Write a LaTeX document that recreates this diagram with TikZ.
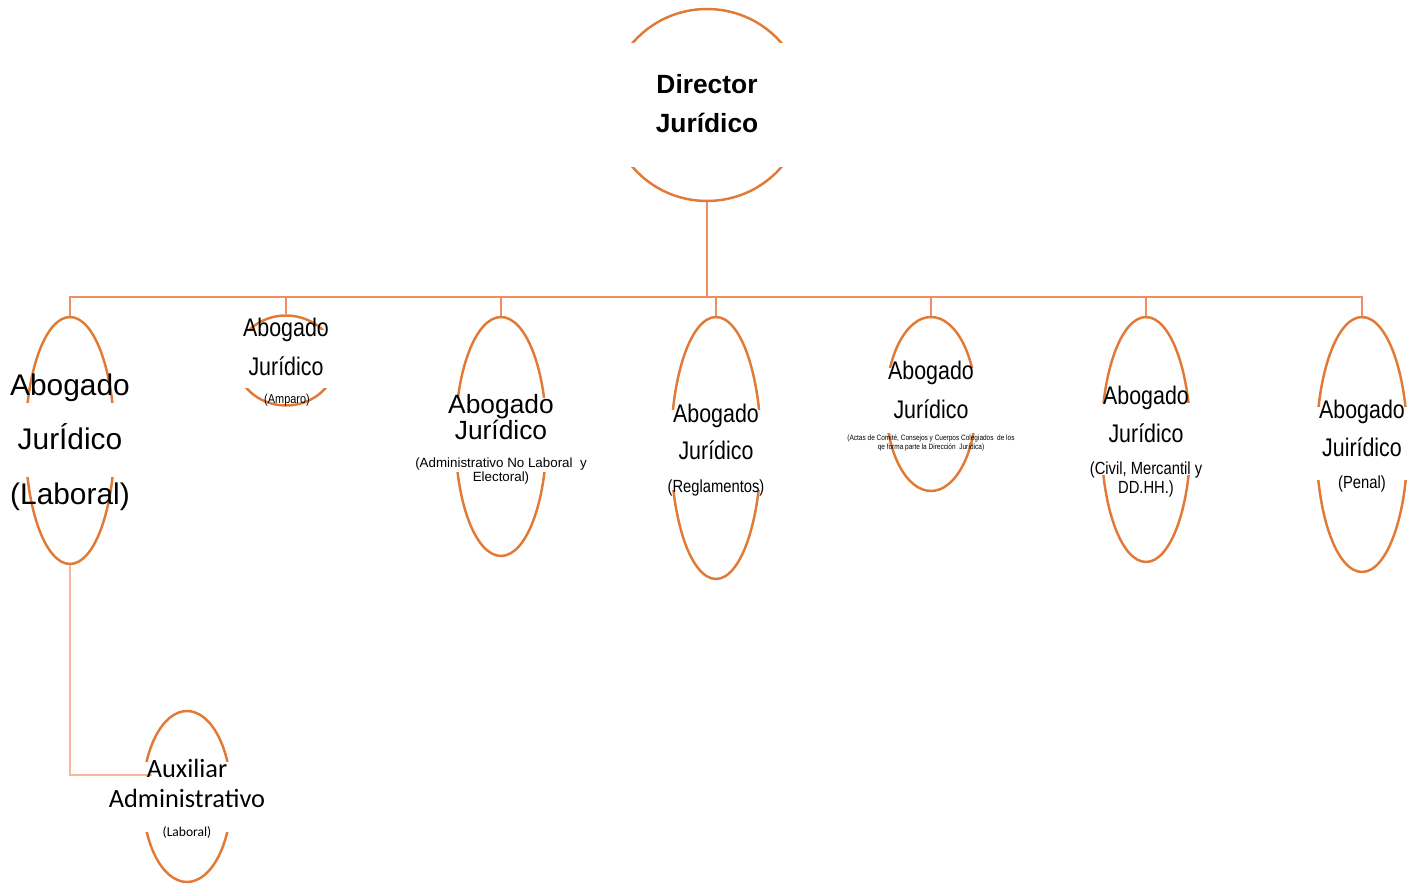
\documentclass[tikz,border=0pt]{standalone}
\usepackage{fontspec}
\setmainfont{Liberation Sans}
\newfontfamily\narrowsf{Liberation Sans}[FakeStretch=0.84]
\newfontfamily\calibrisf{Carlito}
\usetikzlibrary{shapes}
\definecolor{ring}{HTML}{E07A35}
\definecolor{link}{HTML}{F08D5E}
\definecolor{linklight}{HTML}{F6B7A0}
\tikzset{%
	puesto/.style = {draw=ring, line width=1.4pt, ellipse, inner sep=0pt},
	tapa/.style   = {fill=white, inner sep=0pt}, % hides the sides of a ring
	linea/.style  = {draw=link, line width=1.5pt},
	txt/.style    = {anchor=base, inner sep=0pt, align=center},
	dirf/.style   = {font=\bfseries\fontsize{15}{18}\selectfont},
	bigf/.style   = {font=\fontsize{17}{20}\selectfont},
	midf/.style   = {font=\fontsize{15}{18}\selectfont},
	narf/.style   = {font=\narrowsf\fontsize{14.5}{17}\selectfont},
	subf/.style   = {font=\narrowsf\fontsize{10}{12}\selectfont},
	calf/.style   = {font=\calibrisf\fontsize{15}{18}\selectfont}
}

\begin{document}
\begin{tikzpicture}[x=0.02cm,y=-0.02cm]
	\useasboundingbox (0,0) rectangle (1417,884);

	% rings
	\node[puesto, minimum width=3.9cm, minimum height=3.84cm] (dir) at (707,105) {};
	\node[puesto, minimum width=1.78cm, minimum height=4.94cm] (lab) at (70,440.5) {};
	\node[puesto, minimum width=2cm, minimum height=1.8cm] (amp) at (286,360.5) {};
	\node[puesto, minimum width=1.82cm, minimum height=4.78cm] (adm) at (501,436.5) {};
	\node[puesto, minimum width=1.8cm, minimum height=5.24cm] (reg) at (716,448) {};
	\node[puesto, minimum width=1.8cm, minimum height=3.48cm] (act) at (931,404) {};
	\node[puesto, minimum width=1.78cm, minimum height=4.9cm] (civ) at (1146,439.5) {};
	\node[puesto, minimum width=1.82cm, minimum height=5.1cm] (pen) at (1362,444.5) {};
	\node[puesto, minimum width=1.77cm, minimum height=3.42cm] (aux) at (187,796.5) {};

	% white bands behind the texts
	\node[tapa, minimum width=4.3cm, minimum height=2.48cm] (dirT) at (707,105) {};
	\node[tapa, minimum width=2.2cm, minimum height=1.48cm] (labT) at (70,440) {};
	\node[tapa, minimum width=2.4cm, minimum height=1.16cm] (ampT) at (286,359) {};
	\node[tapa, minimum width=2.2cm, minimum height=1.48cm] (admT) at (501,435) {};
	\node[tapa, minimum width=2.2cm, minimum height=1.6cm] (regT) at (716,450) {};
	\node[tapa, minimum width=2.2cm, minimum height=1.3cm] (actT) at (931,400.5) {};
	\node[tapa, minimum width=2.2cm, minimum height=1.44cm] (civT) at (1146,439) {};
	\node[tapa, minimum width=2.2cm, minimum height=1.46cm] (penT) at (1362,443.5) {};
	\node[tapa, minimum width=2.1cm, minimum height=1.4cm] (auxT) at (187,797) {};

	% connectors
	\coordinate (bus) at (707,297);
	\coordinate (auxin) at (152,775);
	\draw[linea] (dir.south) -- (bus);
	\draw[linea] (lab.north) |- (bus) -| (pen.north);
	\foreach \n in {amp,adm,reg,act,civ}
		\draw[linea] (\n.north) -- (\n.north |- bus);
	\draw[linea, draw=linklight] (lab.south) |- (auxin);

	% texts
	\node[txt, dirf] (dir1) at (707,94) {Director};
	\node[txt, dirf] (dir2) at (707,133) {Jurídico};

	\node[txt, bigf] (lab1) at (70,396) {Abogado};
	\node[txt, bigf] (lab2) at (70,450) {JurÍdico};
	\node[txt, bigf] (lab3) at (70,505) {(Laboral)};

	\node[txt, narf] (amp1) at (286,337) {Abogado};
	\node[txt, narf] (amp2) at (286,376) {Jurídico};
	\node[txt, font=\narrowsf\fontsize{7.4}{9}\selectfont] (amp3) at (287,404) {(Amparo)};

	\node[txt, midf] (adm1) at (501,414) {Abogado};
	\node[txt, midf] (adm2) at (501,440) {Jurídico};
	\node[txt, font=\fontsize{7.6}{9}\selectfont] (adm3) at (501,468) {(Administrativo No Laboral\ \ y};
	\node[txt, font=\fontsize{7.6}{9}\selectfont] (adm4) at (501,482) {Electoral)};

	\node[txt, narf] (reg1) at (716,423) {Abogado};
	\node[txt, narf] (reg2) at (716,460) {Jurídico};
	\node[txt, subf] (reg3) at (716,493) {(Reglamentos)};

	\node[txt, narf] (act1) at (931,380) {Abogado};
	\node[txt, narf] (act2) at (931,419) {Jurídico};
	\node[txt, font=\narrowsf\fontsize{4.4}{5}\selectfont] (act3) at (931,441)
		{(Actas de Comité,\ Consejos y Cuerpos Colegiados\ \ de los};
	\node[txt, font=\narrowsf\fontsize{4.4}{5}\selectfont] (act4) at (931,449.5)
		{qe forma parte la Dirección\ \ Jurídica)};

	\node[txt, narf] (civ1) at (1146,405) {Abogado};
	\node[txt, narf] (civ2) at (1146,443) {Jurídico};
	\node[txt, subf] (civ3) at (1146,475) {(Civil, Mercantil y};
	\node[txt, subf] (civ4) at (1146,494) {DD.HH.)};

	\node[txt, narf] (pen1) at (1362,419) {Abogado};
	\node[txt, narf] (pen2) at (1362,457) {Juirídico};
	\node[txt, subf] (pen3) at (1362,489) {(Penal)};

	\node[txt, calf] (aux1) at (187,778) {Auxiliar};
	\node[txt, calf] (aux2) at (187,807) {Administrativo};
	\node[txt, font=\calibrisf\fontsize{7.7}{9}\selectfont] (aux3) at (187,836) {(Laboral)};
\end{tikzpicture}
\end{document}
